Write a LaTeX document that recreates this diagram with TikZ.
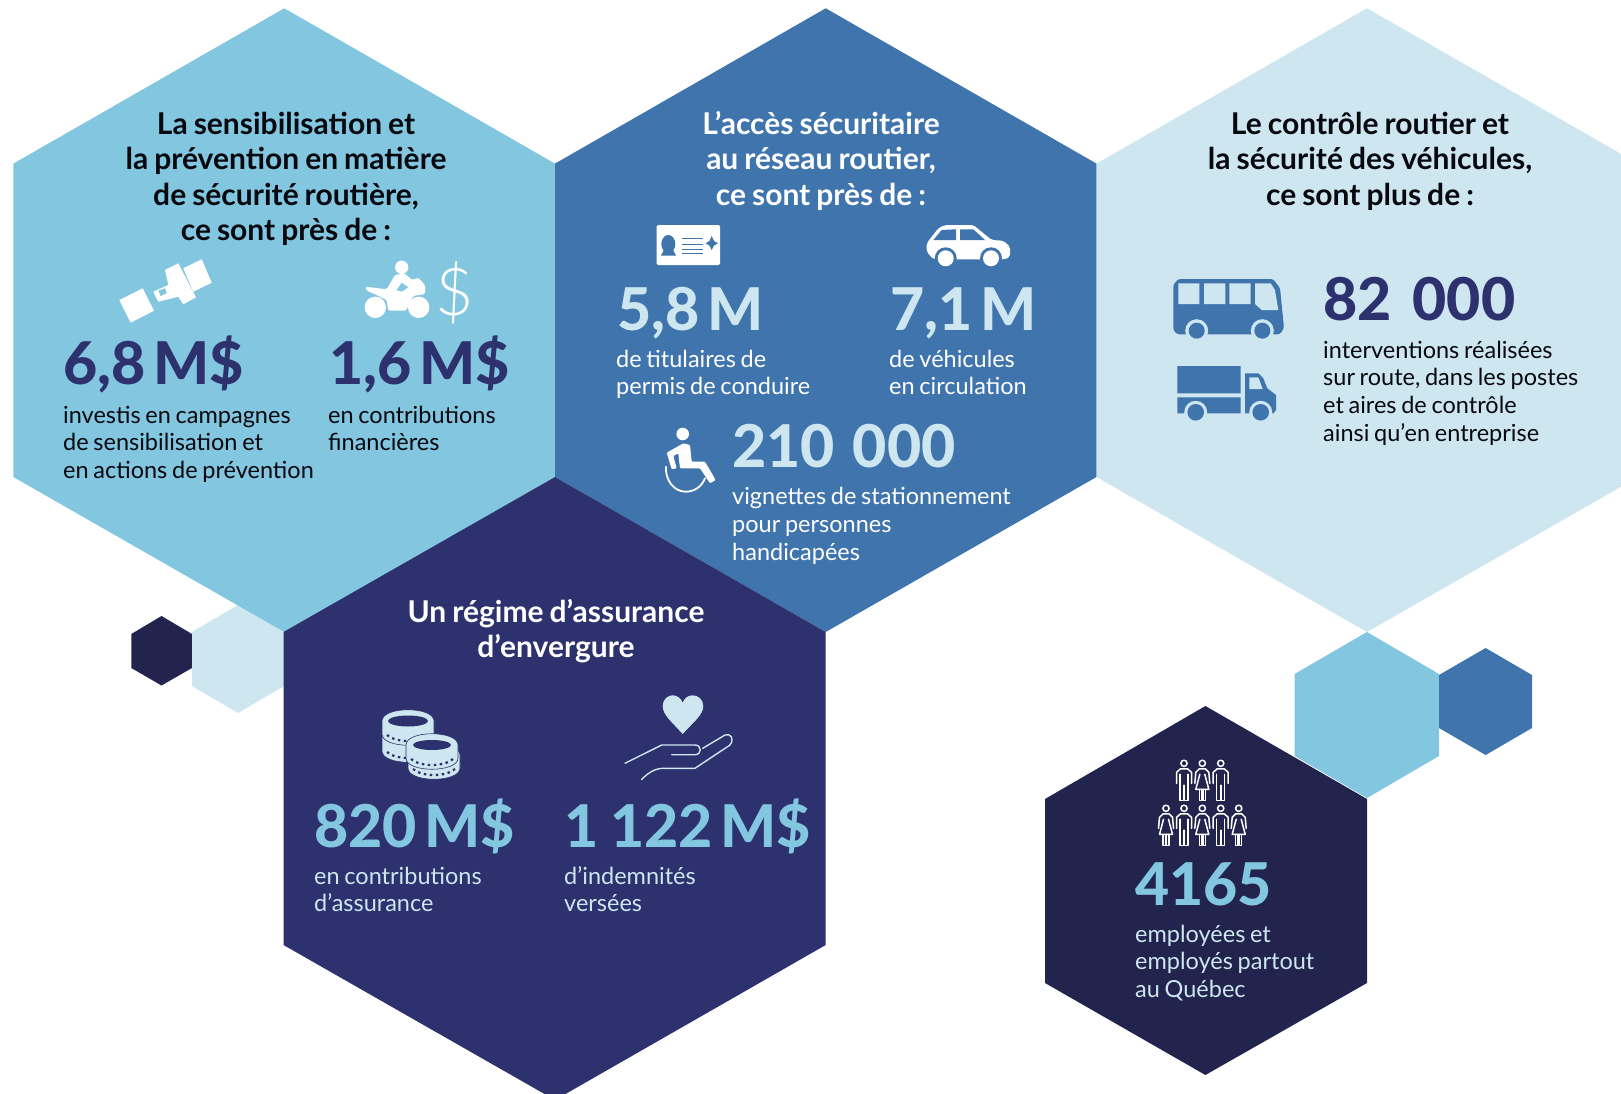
\documentclass[tikz,border=0pt]{standalone}
\usepackage{fontspec}
\setmainfont{Lato}
\newfontfamily\latolight{Lato Light}
\newfontfamily\latoheavy{Lato Heavy}[WordSpace=0.55]
\definecolor{lblue}{HTML}{82C6DF}
\definecolor{mblue}{HTML}{3F74AD}
\definecolor{navy}{HTML}{2D316E}
\definecolor{dnavy}{HTML}{22244D}
\definecolor{pale}{HTML}{CDE6F0}
\definecolor{ink}{HTML}{08080F}
\tikzset{
  head/.style={inner sep=0,anchor=base,text width=560pt,align=center,font=\fontsize{30}{35.4}\selectfont\bfseries,execute at begin node={\spaceskip=.2em\relax}},
  bignum/.style={inner sep=0,anchor=base west,font=\fontsize{59}{60}\latoheavy},
  body/.style={inner sep=0,anchor=base west,text width=340pt,align=left,font=\fontsize{23.5}{27.9}\selectfont,execute at begin node={\spaceskip=.2em\relax}},
  thinw/.style={draw=white,line width=1.5pt,line cap=round,line join=round},
}
\newcommand{\coin}[3]{% x y
  \begin{scope}[shift={(#1,#2)}]
    \fill[pale,draw=navy,line width=.6pt] (-26,0) .. controls (-26,-15) and (26,-15) .. (26,0) -- (26,13) .. controls (26,28) and (-26,28) .. (-26,13) -- cycle;
    \draw[navy,line width=2.2pt,dash pattern=on 2.5pt off 3.5pt] (-21,14) .. controls (-12,22) and (12,22) .. (21,14);
    #3
  \end{scope}}
\newcommand{\manfig}[2]{%
  \begin{scope}[shift={(#1,#2)},thinw]
    \draw (0,0) circle (3.1);
    \draw (-7.5,20) -- (-7.5,9) -- (-3.5,5.5) -- (3.5,5.5) -- (7.5,9) -- (7.5,20);
    \draw (-4,11) -- (-4,37) -- (-.3,37) -- (-.3,22) (.3,22) -- (.3,37) -- (4,37) -- (4,11);
  \end{scope}}
\newcommand{\womanfig}[2]{%
  \begin{scope}[shift={(#1,#2)},thinw]
    \draw (0,0) circle (3.1);
    \draw (-7.5,20) -- (-6.5,9) -- (-3,5.5) -- (3,5.5) -- (6.5,9) -- (7.5,20);
    \draw (-2.5,11) -- (-6.5,26) -- (6.5,26) -- (2.5,11);
    \draw (-3,26) -- (-3,37) -- (-.6,37) -- (-.6,26) (.6,26) -- (.6,37) -- (3,37) -- (3,26);
  \end{scope}}
\begin{document}
\begin{tikzpicture}[x=1pt,y=-1pt]
\useasboundingbox (0,0) rectangle (1621,1094);
\clip (0,0) rectangle (1621,1094);
% small hexagons
\fill[dnavy] (161.5,616) -- (192,634) -- (192,668) -- (161.5,685.5) -- (131.3,668) -- (131.3,634) -- cycle;
\fill[pale] (238,605) -- (284,632) -- (284,686) -- (238,713) -- (192,686) -- (192,632) -- cycle;
\fill[lblue] (1367,632) -- (1439,674) -- (1439,756) -- (1367,798) -- (1294.5,756) -- (1294.5,674) -- cycle;
\fill[mblue] (1485.6,648) -- (1532,675) -- (1532,728) -- (1485.6,755) -- (1439,728) -- (1439,675) -- cycle;
% big hexagons
\fill[lblue] (284.3,8.3) -- (555,163.6) -- (555,477) -- (284.3,632) -- (13.4,477) -- (13.4,163.6) -- cycle;
\fill[mblue] (825.7,8.3) -- (1096.5,163.6) -- (1096.5,477) -- (825.7,632) -- (555,477) -- (555,163.6) -- cycle;
\fill[pale] (1367,8.3) -- (1638,163.6) -- (1638,477) -- (1367,632) -- (1096.5,477) -- (1096.5,163.6) -- cycle;
\fill[navy] (555,477) -- (825.7,632) -- (825.7,945) -- (555,1100) -- (283.5,945) -- (283.5,632) -- cycle;
\fill[dnavy] (1205.4,706) -- (1367,799) -- (1367,983) -- (1205.4,1075) -- (1045,983) -- (1045,799) -- cycle;

% --- panel 1
\node[head,text=ink] (h1) at (286,134.5) {La sensibilisation et\\la prévention en matière\\de sécurité routière,\\ce sont près de :};
\node[bignum,text=navy] (n1) at (63,384.5) {6,8 M\$};
\node[bignum,text=navy] (n2) at (329,384.5) {1,6 M\$};
\node[body,text=ink] (b1) at (63,423) {investis en campagnes\\de sensibilisation et\\en actions de prévention};
\node[body,text=ink] (b2) at (328,423) {en contributions\\financières};
% seat belt
\fill[white] (119.3,300) -- (142.7,288.3) -- (154,310.7) -- (130.7,322.7) -- cycle;
\fill[white] (183.3,268.3) -- (201.7,259.3) -- (211.7,282.7) -- (193.3,291.7) -- cycle;
\fill[white] (165,270) -- (178.3,263.3) -- (196,297.3) -- (183.3,304.3) -- (178.3,296.7) -- (158.3,301.7) -- (153.3,291.7) -- (168.3,285) -- cycle;
\fill[lblue] (158.3,290.7) -- (165,288.3) -- (166.7,293.3) -- (160.7,296) -- cycle;
% motorbike
\fill[white] (375.3,307.3) circle (10.7) (418.7,307.3) circle (10.7) (401.7,267.3) circle (6.7);
\fill[white,rounded corners=1.5pt] (365,286.7) -- (386.7,289.3) -- (395,275) -- (405,273.3) -- (411.7,280) -- (418.3,277.7) -- (425,285) -- (425,294) -- (413,296) -- (406,310.7) -- (388.3,310.7) -- (386.7,300) -- (376.7,295) -- (366.7,290.7) -- cycle;
\fill[lblue] (396.7,290) -- (401.7,282.7) -- (408.3,287.3) -- (401.7,291.7) -- cycle;
\node[inner sep=0,anchor=base,text=white,font=\fontsize{66}{66}\latolight] (dollar) at (454.8,315.5) {\$};

% --- panel 2
\node[head,text=white] (h2) at (821,134.5) {L’accès sécuritaire\\au réseau routier,\\ce sont près de :};
\node[bignum,text=pale] (n3) at (617,330) {5,8 M};
\node[bignum,text=pale] (n4) at (890,330) {7,1 M};
\node[body,text=white] (b3) at (616,367) {de titulaires de\\permis de conduire};
\node[body,text=white] (b4) at (889,367) {de véhicules\\en circulation};
\node[bignum,text=pale] (n5) at (732,467) {210\hspace{18pt}000};
\node[body,text=white] (b5) at (732,504.5) {vignettes de stationnement\\pour personnes\\handicapées};
% licence card
\fill[white,rounded corners=1.5pt] (656.7,225) rectangle (720,265);
\fill[mblue] (668.3,244) ellipse (7 and 9);
\fill[mblue] (661,255.5) -- (676,255.5) -- (673,250) -- (664,250) -- cycle;
\draw[mblue,line width=.9pt] (681.7,238.3) -- (702.7,238.3) (681.7,244) -- (702.7,244) (681.7,249) -- (702.7,249) (681.7,253.3) -- (702.7,253.3);
\fill[mblue] (711.7,236) -- (714,241) -- (718,243.3) -- (714,245.5) -- (711.7,250) -- (709.4,245.5) -- (705.5,243.3) -- (709.4,241) -- cycle;
% car
\fill[white,rounded corners=2pt] (926.7,243.3) -- (938.3,228.3) -- (945,225) -- (973.3,225) -- (991.7,240) -- (1003.3,240.7) -- (1010,246.7) -- (1010,256.7) -- (1005,259.3) -- (933.3,259.3) -- (926.7,251.7) -- cycle;
\fill[mblue] (933.3,240) -- (941.7,230) -- (956,229.3) -- (956,240) -- cycle;
\fill[mblue] (960,229.3) -- (973.3,229.3) -- (985,240) -- (960,240) -- cycle;
\fill[mblue] (945.7,258.3) circle (11) (991,258.3) circle (11);
\fill[white] (945.7,258.3) circle (8) (991,258.3) circle (8);
% wheelchair
\fill[white] (682.7,434) circle (6.3);
\fill[white,rounded corners=1pt] (666.7,452.7) -- (683.3,443.3) -- (690,445) -- (691.7,461.7) -- (705,461.7) -- (715.7,480) -- (710,483.3) -- (700,468.3) -- (680,468.3) -- (678.3,453.3) -- (673.3,456) -- (676.7,468.3) -- (671.7,469.3) -- cycle;
\draw[white,line width=1.8pt,line cap=round] (666,466.7) .. controls (665,480) and (674,491.7) .. (685.7,491.7) .. controls (695,491.7) and (702,486) .. (705,478.3);

% --- panel 3
\node[head,text=ink] (h3) at (1370,134.5) {Le contrôle routier et\\la sécurité des véhicules,\\ce sont plus de :};
\node[bignum,text=navy] (n6) at (1323,320.5) {82\hspace{21pt}000};
\node[body,text=ink] (b6) at (1323,358) {interventions réalisées\\sur route, dans les postes\\et aires de contrôle\\ainsi qu’en entreprise};
% bus
\fill[mblue,rounded corners=2.5pt] (1173.3,285) -- (1178,279) -- (1273,279) -- (1280,288) -- (1284,328) -- (1280,334.3) -- (1177,334.3) -- (1173.3,330) -- cycle;
\fill[pale] (1178.3,283.3) rectangle (1199.3,304) (1204,283.3) rectangle (1225.3,304) (1229.3,283.3) rectangle (1250.7,304);
\fill[pale] (1255,283.3) -- (1270.7,283.3) -- (1275,290) -- (1278.3,310) -- (1261.7,310) -- (1255,304) -- cycle;
\fill[pale] (1196.7,330.7) circle (11.5) (1262.3,330.7) circle (11.5);
\fill[mblue] (1196.7,330.7) circle (8) (1262.3,330.7) circle (8);
% truck
\fill[mblue] (1177.3,366) rectangle (1240.7,393.3) (1177.3,397.3) rectangle (1240.7,413.3);
\fill[mblue] (1245,373.3) -- (1258.3,373.3) -- (1263.3,378.3) -- (1267.3,388.3) -- (1276,395) -- (1276,410) -- (1273.3,413.3) -- (1245,413.3) -- cycle;
\fill[pale] (1249.3,377.3) -- (1258.3,377.3) -- (1262.7,389) -- (1249.3,389) -- cycle;
\fill[pale] (1195.7,412.3) circle (11.5) (1260.7,412.3) circle (11.5);
\fill[mblue] (1195.7,412.3) circle (8.3) (1260.7,412.3) circle (8.3);

% --- panel 4
\node[head,text=white] (h4) at (556,622.5) {Un régime d’assurance\\d’envergure};
\node[bignum,text=lblue] (n7) at (314,847) {820 M\$};
\node[bignum,text=lblue] (n8) at (564,847) {1\hspace{12pt}122 M\$};
\node[body,text=pale] (b7) at (314,884) {en contributions\\d’assurance};
\node[body,text=pale] (b8) at (564,884) {d’indemnités\\versées};
% coins
\coin{408}{738}{}
\coin{408}{721}{\fill[navy] (0,0) ellipse (20 and 5.5);}
\coin{434}{755}{}
\coin{432}{745}{\fill[navy] (0,0) ellipse (19 and 5);}
% heart + hand
\fill[pale] (682.7,734) .. controls (672,722) and (662.7,715) .. (662.7,706) .. controls (662.7,699) and (668,695.3) .. (672.7,695.3) .. controls (677,695.3) and (681,698) .. (682.7,702.7) .. controls (684.4,698) and (688.4,695.3) .. (692.7,695.3) .. controls (697.4,695.3) and (703.3,699) .. (703.3,706) .. controls (703.3,715) and (693.4,722) .. (682.7,734) -- cycle;
\draw[pale,line width=1.4pt,line cap=round,line join=round] (625,763.3) -- (661.7,745) -- (695,745) .. controls (702,745) and (702,754.7) .. (695,754.7) -- (671.7,754.7);
\draw[pale,line width=1.4pt,line cap=round,line join=round] (702.7,748.3) -- (725,735) .. controls (730,733) and (735,738) .. (730,745) -- (695,768.3) -- (663.3,768.3) .. controls (655,768.3) and (648,773) .. (641.7,779.3);

% --- panel 5
\manfig{1184}{763.3}\womanfig{1202.3}{763.3}\manfig{1220.7}{763.3}
\womanfig{1166}{808.3}\manfig{1184}{808.3}\womanfig{1202.3}{808.3}\manfig{1220.7}{808.3}\womanfig{1238.7}{808.3}
\node[bignum,text=lblue] (n9) at (1135,905) {4165};
\node[body,text=pale] (b9) at (1135,942) {employées et\\employés partout\\au Québec};
\end{tikzpicture}
\end{document}
